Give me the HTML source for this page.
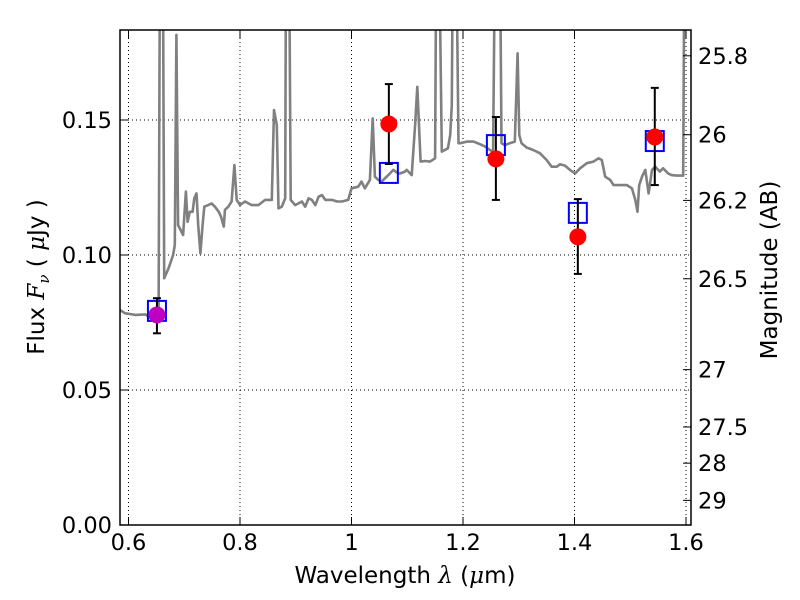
<!DOCTYPE html>
<html><head><meta charset="utf-8"><style>
body{margin:0;background:#fff;}
svg{display:block;font-family:"DejaVu Sans","Liberation Sans",sans-serif;}
</style></head><body>
<svg id="chart" width="800" height="600" viewBox="0 0 800 600"></svg>
<script>
const specLam=[0.585,0.594,0.612,0.630,0.642,0.651,0.654,0.657,0.661,0.664,0.672,0.680,0.683,0.686,0.689,0.695,0.698,0.703,0.706,0.710,0.715,0.718,0.722,0.725,0.729,0.733,0.736,0.743,0.749,0.755,0.762,0.766,0.771,0.773,0.779,0.785,0.790,0.794,0.800,0.809,0.821,0.833,0.845,0.857,0.861,0.866,0.869,0.875,0.881,0.883,0.887,0.891,0.899,0.911,0.917,0.923,0.929,0.935,0.941,0.947,0.953,0.965,0.974,0.983,0.994,1.000,1.012,1.018,1.024,1.033,1.038,1.042,1.048,1.054,1.066,1.075,1.084,
1.087,1.096,1.099,1.108,1.114,1.118,1.124,1.132,1.141,1.150,1.153,1.155,1.162,1.173,1.177,1.180,1.183,1.186,1.192,1.195,1.207,1.219,1.231,1.240,1.248,1.254,1.259,1.265,1.269,1.275,1.284,1.293,1.298,1.301,1.305,1.314,1.326,1.338,1.350,1.359,1.368,1.374,1.383,1.392,1.401,1.410,1.422,1.434,1.443,1.449,1.455,1.464,1.470,1.482,1.494,1.503,1.509,1.513,1.516,1.521,1.527,1.533,1.539,1.545,1.553,1.559,1.568,1.574,1.583,1.595,1.598,1.607];
const specFlux=[0.0796,0.0784,0.0778,0.078,0.0765,0.0765,0.0778,0.25,0.25,0.0914,0.0951,0.1,0.1037,0.1815,0.1111,0.1086,0.1074,0.1235,0.1123,0.116,0.116,0.121,0.1228,0.1111,0.1006,0.1111,0.1179,0.1185,0.1191,0.1179,0.116,0.1142,0.1105,0.1167,0.1179,0.1198,0.1333,0.1204,0.1185,0.1198,0.1185,0.1185,0.1204,0.1204,0.1537,0.1481,0.1173,0.1179,0.1210,0.25,0.25,0.1204,0.1185,0.1198,0.1179,0.1210,0.1204,0.1185,0.1216,0.1222,0.1204,0.1204,0.1198,0.1198,0.1204,0.1247,0.1253,0.1272,0.1247,0.1278,0.1506,0.129,0.1278,0.1272,0.1296,0.1315,0.1302,
0.1302,0.1309,0.1315,0.1296,0.1481,0.1623,0.1346,0.1348,0.1346,0.1358,0.25,0.25,0.1383,0.1395,0.1444,0.1556,0.25,0.25,0.1414,0.1414,0.142,0.142,0.141,0.1401,0.1389,0.1383,0.25,0.25,0.1414,0.1407,0.1414,0.142,0.1747,0.1444,0.1414,0.1398,0.1389,0.1377,0.1352,0.1327,0.1327,0.1336,0.1331,0.1315,0.1302,0.1321,0.134,0.1346,0.1358,0.1352,0.129,0.1278,0.1259,0.1259,0.1259,0.1247,0.1204,0.116,0.1259,0.129,0.1315,0.1228,0.1315,0.1327,0.1309,0.1321,0.1302,0.1296,0.1294,0.1294,0.25,0.25];
const photLam=[0.651,1.067,1.259,1.406,1.544];
const photFlux=[0.0778,0.1485,0.1356,0.1067,0.1437];
const errHi=[0.084,0.1633,0.1511,0.1207,0.1619];
const errLo=[0.071,0.1337,0.1204,0.093,0.1259];
const modelFlux=[0.0793,0.1304,0.1407,0.1156,0.1422];
const pointColors=["#bf00bf","red","red","red","red"];
const xTicks=[0.6,0.8,1.0,1.2,1.4,1.6];
const xTickLabels=["0.6","0.8","1","1.2","1.4","1.6"];
const yTicks=[0,0.05,0.10,0.15];
const yTickLabels=["0.00","0.05","0.10","0.15"];
const magTicks=[25.8,26,26.2,26.5,27,27.5,28,29];

const L=120,R=691,T=30,B=525;
const X=l=>128.5+(l-0.6)*557.5;
const Y=f=>B-f*2700;
const magY=m=>Y(Math.pow(10,(23.9-m)/2.5));
const NS="http://www.w3.org/2000/svg";
const svg=document.getElementById('chart');
function mk(tag,attrs,parent){const e=document.createElementNS(NS,tag);for(const k in attrs)e.setAttribute(k,attrs[k]);(parent||svg).appendChild(e);return e;}

const defs=mk('defs',{});
const cp=mk('clipPath',{id:'clip'},defs);mk('rect',{x:L,y:T,width:R-L,height:B-T},cp);

xTicks.forEach(v=>{const g=mk('line',{x1:X(v),x2:X(v),y1:T,y2:B,stroke:'#000','stroke-width':1,'stroke-dasharray':'1,3'});

});
yTicks.forEach(v=>{const g=mk('line',{x1:L,x2:R,y1:Y(v),y2:Y(v),stroke:'#000','stroke-width':1,'stroke-dasharray':'1,3'});

});

const plot=mk('g',{'clip-path':'url(#clip)'});


let d=specLam.map((l,i)=>(i?'L':'M')+X(l).toFixed(1)+','+Y(specFlux[i]).toFixed(1)).join(' ');
const sp=mk('path',{d:d,fill:'none',stroke:'#808080','stroke-width':2.6,'stroke-linejoin':'round'},plot);



photLam.forEach((l,i)=>{const s=mk('rect',{x:X(l)-9,y:Y(modelFlux[i])-10,width:18,height:20,fill:'none',stroke:'#0000ff','stroke-width':2},plot);

});
photLam.forEach((l,i)=>{const g=mk('g',{stroke:'#000','stroke-width':2},plot);


const x=X(l);
mk('line',{x1:x,x2:x,y1:Y(errHi[i]),y2:Y(errLo[i])},g);
mk('line',{x1:x-4,x2:x+4,y1:Y(errHi[i]),y2:Y(errHi[i])},g);
mk('line',{x1:x-4,x2:x+4,y1:Y(errLo[i]),y2:Y(errLo[i])},g);});
photLam.forEach((l,i)=>{const c=mk('circle',{cx:X(l),cy:Y(photFlux[i]),r:8.5,fill:pointColors[i]},plot);

});

const fr=mk('rect',{x:L,y:T,width:R-L,height:B-T,fill:'none',stroke:'#000','stroke-width':1.5});



xTicks.forEach((v,i)=>{const x=X(v);
mk('line',{x1:x,x2:x,y1:B,y2:B-8,stroke:'#000'});mk('line',{x1:x,x2:x,y1:T,y2:T+8,stroke:'#000'});
const t=mk('text',{x:x,y:B+25,'text-anchor':'middle','font-size':22.5});t.textContent=xTickLabels[i];

});
yTicks.forEach((v,i)=>{const y=Y(v);
mk('line',{x1:L,x2:L+8,y1:y,y2:y,stroke:'#000'});
const t=mk('text',{x:L-8,y:y+8,'text-anchor':'end','font-size':22.5});t.textContent=yTickLabels[i];

});
magTicks.forEach(m=>{const y=magY(m);
mk('line',{x1:R,x2:R-8,y1:y,y2:y,stroke:'#000'});
const t=mk('text',{x:R+7,y:y+8,'font-size':22.5});t.textContent=String(m);

});
</script>
<svg style="position:absolute;left:0;top:0" width="800" height="600">
<text x="405" y="583" text-anchor="middle" font-size="23" font-family="DejaVu Sans, sans-serif">Wavelength  <tspan font-family="DejaVu Serif, serif" font-style="italic">λ</tspan> (<tspan font-family="DejaVu Serif, serif" font-style="italic">μ</tspan>m)</text>
<text transform="translate(44,277) rotate(-90)" text-anchor="middle" font-size="23" font-family="DejaVu Sans, sans-serif">Flux  <tspan font-family="DejaVu Serif, serif" font-style="italic">F</tspan><tspan font-family="DejaVu Serif, serif" font-style="italic" font-size="15" dy="5">ν</tspan><tspan dy="-5">  ( </tspan><tspan font-family="DejaVu Serif, serif" font-style="italic">μ</tspan>Jy )</text>
<text transform="translate(777,270) rotate(-90)" text-anchor="middle" font-size="23" font-family="DejaVu Sans, sans-serif">Magnitude (AB)</text>
</svg>
</body></html>
